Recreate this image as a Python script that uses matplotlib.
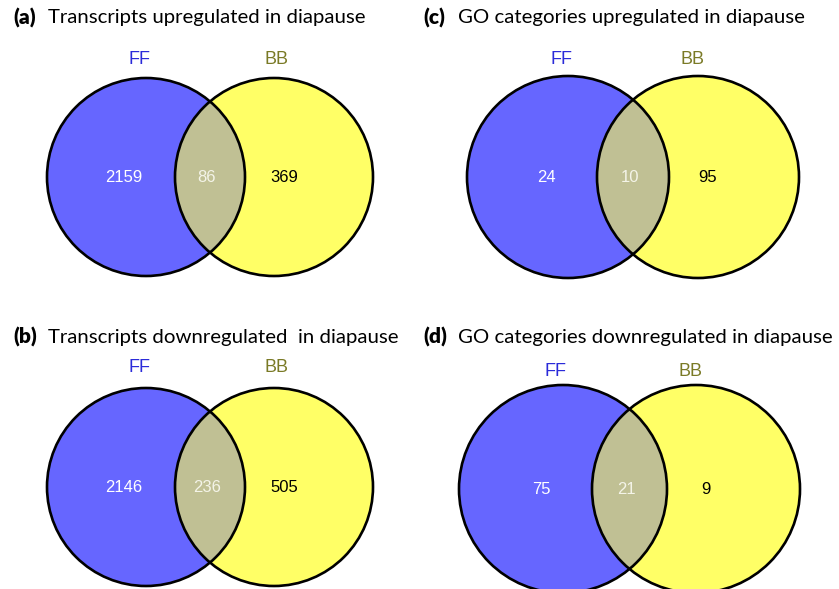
import matplotlib
matplotlib.use("Agg")
import matplotlib.pyplot as plt
from matplotlib.patches import Circle

# overlap counts: FF only, shared, BB only
panel_tags = ["(a)", "(b)", "(c)", "(d)"]
panel_titles = [
    "Transcripts upregulated in diapause",
    "Transcripts downregulated  in diapause",
    "GO categories upregulated in diapause",
    "GO categories downregulated in diapause",
]
ff_only = [2159, 2146, 24, 75]
shared = [86, 236, 10, 21]
bb_only = [369, 505, 95, 9]
set_names = ["FF", "BB"]

BLUE = "#6666ff"
YELLOW = "#ffff66"
LENS = "#c0c094"

# layout in pixel space: (title x, title y, left cx, right cx, cy, r, label y)
layout = [
    (13, 18, 146, 274, 177, 99, 60),
    (13, 337, 146, 274, 487, 99, 368),
    (423, 18, 568, 698, 177, 101, 60),
    (423, 337, 563, 696, 489, 104, 372),
]

fig = plt.figure(figsize=(8.39, 5.89), dpi=100)
ax = fig.add_axes([0, 0, 1, 1])
ax.set_xlim(0, 839)
ax.set_ylim(589, 0)
ax.set_aspect("equal")
ax.axis("off")

title_font = "Lato"
num_font = "Liberation Sans"

for i, (tx, ty, lx, rx, cy, r, ly) in enumerate(layout):
    left = Circle((lx, cy), r, facecolor=BLUE, edgecolor="none", zorder=1)
    right = Circle((rx, cy), r, facecolor=YELLOW, edgecolor="none", zorder=1)
    ax.add_patch(left)
    ax.add_patch(right)
    # overlap region: left circle clipped by right circle
    lens = Circle((lx, cy), r, facecolor=LENS, edgecolor="none", zorder=2)
    ax.add_patch(lens)
    lens.set_clip_path(right)
    for c in (lx, rx):
        ax.add_patch(Circle((c, cy), r, facecolor="none", edgecolor="black",
                            linewidth=1.9, zorder=3))

    mid = (lx + rx) / 2
    ax.text(lx - 22, cy + 1, str(ff_only[i]), color="white", fontsize=12,
            family=num_font, ha="center", va="center", zorder=4)
    ax.text(mid - 3, cy + 1, str(shared[i]), color="#f4f4e8", fontsize=12,
            family=num_font, ha="center", va="center", zorder=4)
    ax.text(rx + 10, cy + 1, str(bb_only[i]), color="black", fontsize=12,
            family=num_font, ha="center", va="center", zorder=4)

    ax.text(lx - 6 if i < 2 else lx - 7, ly, set_names[0], color="#2b2bd9",
            fontsize=13, family=num_font, ha="center", va="center")
    ax.text(rx + 2 if i < 2 else rx - 6, ly, set_names[1], color="#7a7a26",
            fontsize=13, family=num_font, ha="center", va="center")

    ax.text(tx, ty, panel_tags[i], fontsize=15, family=title_font,
            fontweight="heavy", ha="left", va="center")
    ax.text(tx + 35, ty, panel_titles[i], fontsize=14.7, family=title_font,
            ha="left", va="center")

fig.savefig("out.png", dpi=100)
